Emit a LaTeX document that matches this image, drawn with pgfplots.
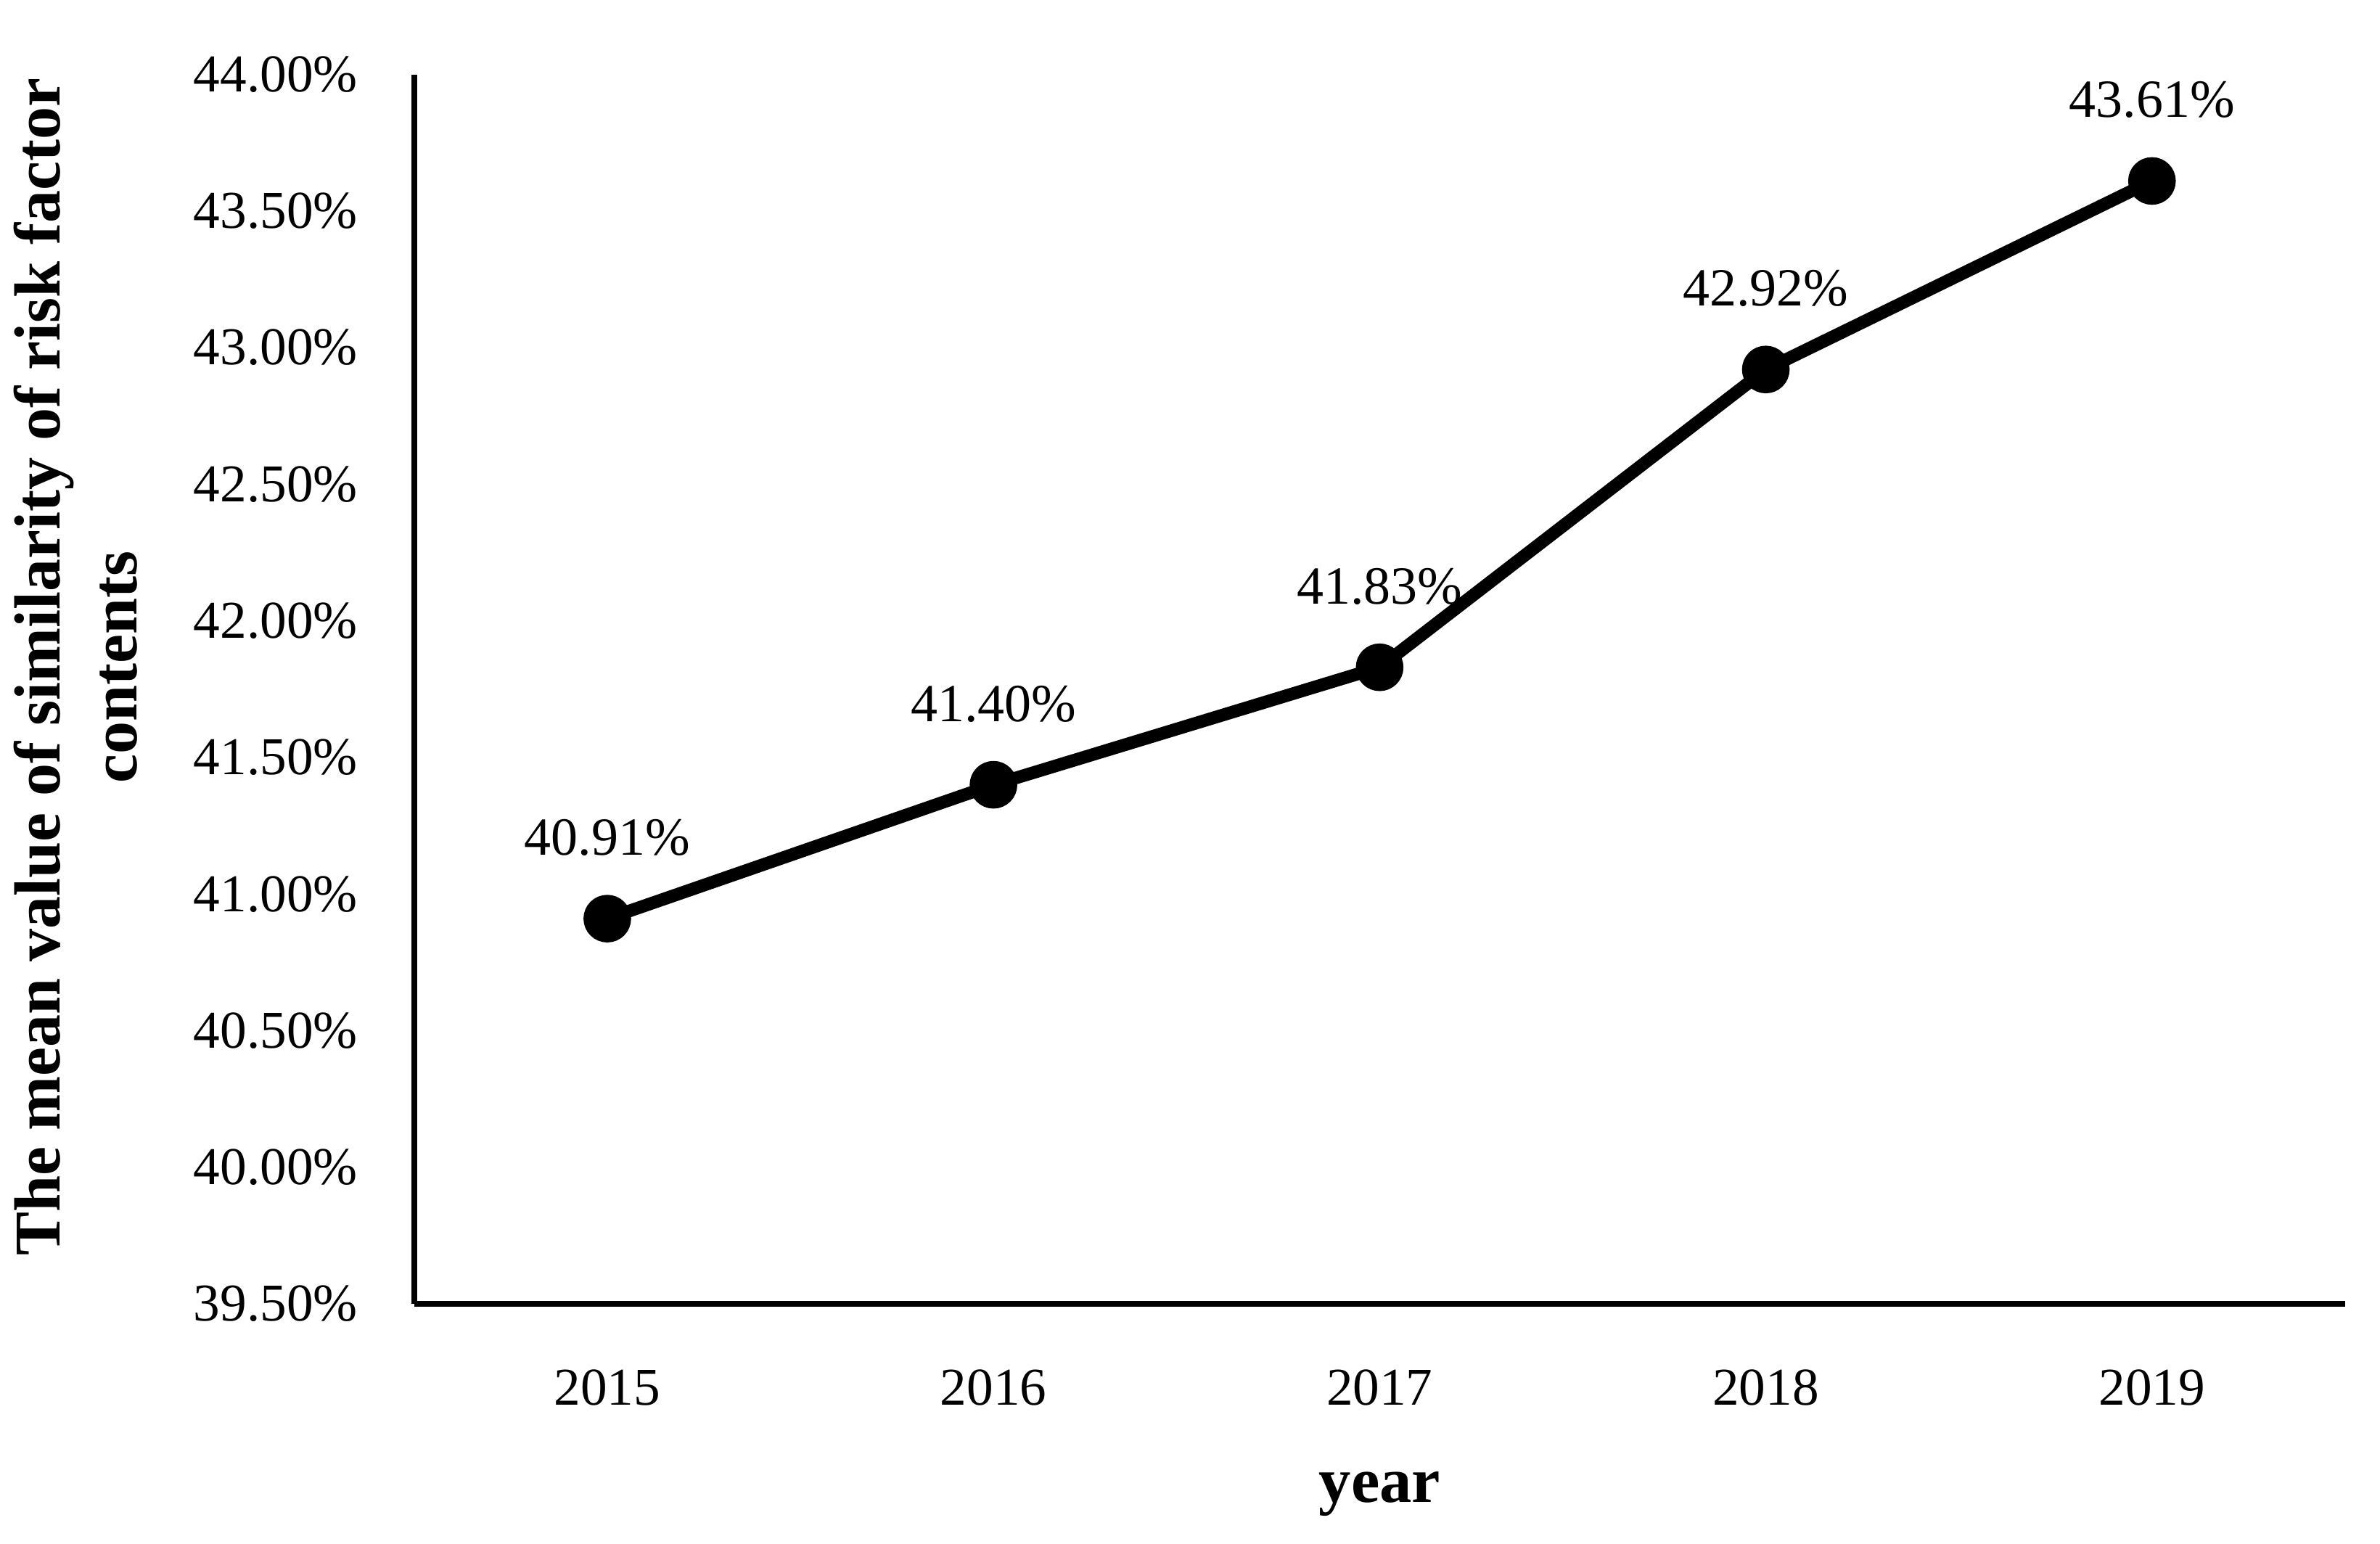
\documentclass[border=0pt]{standalone}
\usepackage{fontspec}
\setmainfont{Liberation Serif}
\usepackage{pgfplots}
\pgfplotsset{compat=1.18}
\begin{document}
\begin{tikzpicture}
\begin{axis}[
  at={(0,0)}, anchor=south west,
  scale only axis, width=381.3pt, height=242.8pt,
  xmin=-0.5, xmax=4.5, ymin=39.5, ymax=44,
  axis x line=bottom, axis y line=left,
  axis line style={-, line width=1.1pt, black},
  xtick={0,1,2,3,4}, xticklabels={2015,2016,2017,2018,2019},
  ytick={39.5,40,40.5,41,41.5,42,42.5,43,43.5,44},
  major tick length=0pt,
  /pgf/number format/assume math mode=true,
  yticklabel={\pgfmathprintnumber[fixed,fixed zerofill,precision=2]{\tick}\%},
  yticklabel style={font=\fontsize{10.5}{12}\selectfont, inner sep=0pt, anchor=east, xshift=-11pt},
  xticklabel style={font=\fontsize{10.5}{12}\selectfont, inner sep=0pt, anchor=north, yshift=-12.8pt},
  every axis y label/.style={at={(axis description cs:-0.1752,0.518)}, rotate=90, anchor=center, align=center, font=\fontsize{12.9}{15.2}\selectfont\bfseries},
  every axis x label/.style={at={(axis description cs:0.5,0)}, anchor=center, yshift=-37.5pt, font=\fontsize{12.7}{15}\selectfont\bfseries},
  ylabel={The mean value of similarity of risk factor\\contents},
  xlabel={year},
  clip=false,
  nodes near coords={\pgfmathprintnumber[fixed,fixed zerofill,precision=2]{\pgfplotspointmeta}\%},
  every node near coord/.append style={font=\fontsize{10.6}{12}\selectfont, anchor=center, yshift=16pt, inner sep=0pt},
]
\addplot[black, line width=2.5pt, mark=*, mark size=3.45pt, point meta=y] coordinates {
  (0,40.91) (1,41.40) (2,41.83) (3,42.92) (4,43.61)
};
\end{axis}
\pgfresetboundingbox
\path (-81.8pt,-47.3pt) rectangle (388.2pt,257.5pt);
\end{tikzpicture}
\end{document}
